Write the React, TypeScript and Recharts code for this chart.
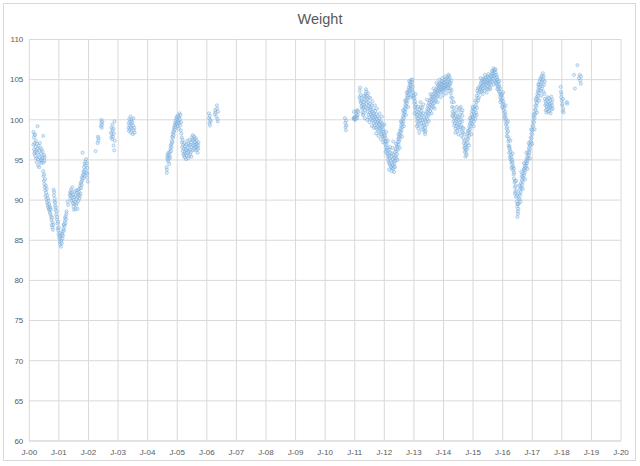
import React from "react";
import { ScatterChart, Scatter, XAxis, YAxis, CartesianGrid } from "recharts";

type Pt = [number, number];

// x tick values (Jan of each year) and y tick values
const xTicks: number[] = [2000, 2001, 2002, 2003, 2004, 2005, 2006, 2007, 2008, 2009, 2010, 2011, 2012, 2013, 2014, 2015, 2016, 2017, 2018, 2019, 2020];
const yTicks: number[] = [60, 65, 70, 75, 80, 85, 90, 95, 100, 105, 110];

const w2000a: Pt[] = [
  [2000.14, 98.5], [2000.14, 96.9], [2000.15, 97.8], [2000.16, 96.3], [2000.17, 98.2], [2000.17, 95.8], [2000.18, 97.1], [2000.19, 96.0],
  [2000.2, 98.1], [2000.2, 95.5], [2000.21, 96.6], [2000.22, 97.4], [2000.23, 95.2], [2000.24, 96.1], [2000.25, 94.7], [2000.26, 97.0],
  [2000.27, 95.9], [2000.28, 99.2], [2000.28, 96.4], [2000.29, 95.1], [2000.3, 94.3], [2000.31, 96.8], [2000.32, 95.6], [2000.33, 94.1],
  [2000.34, 96.2], [2000.35, 95.3], [2000.36, 97.1], [2000.37, 94.8], [2000.38, 96.5], [2000.39, 95.0], [2000.4, 95.8], [2000.41, 94.6],
  [2000.42, 96.3], [2000.43, 95.2], [2000.44, 94.9], [2000.45, 96.0], [2000.46, 95.4], [2000.47, 98.0], [2000.48, 94.7], [2000.5, 95.6],
  [2000.51, 94.9], [2000.52, 95.3],
];

const w2000b: Pt[] = [
  [2000.47, 93.6], [2000.48, 93.0], [2000.49, 92.4], [2000.5, 93.2], [2000.51, 92.0], [2000.52, 91.6], [2000.53, 92.6], [2000.54, 91.2],
  [2000.55, 90.5], [2000.56, 91.8], [2000.57, 90.9], [2000.58, 90.1], [2000.59, 91.4], [2000.6, 89.7], [2000.61, 90.6], [2000.62, 89.4],
  [2000.63, 90.2], [2000.64, 89.1], [2000.65, 89.9], [2000.66, 88.9], [2000.67, 89.5], [2000.68, 88.7], [2000.69, 89.2], [2000.7, 88.4],
  [2000.71, 89.0], [2000.72, 88.2], [2000.73, 88.8], [2000.74, 87.9], [2000.75, 87.5], [2000.76, 86.9], [2000.77, 87.8], [2000.78, 86.6],
  [2000.79, 87.2], [2000.8, 86.3], [2000.81, 86.9],
];

const w2000c: Pt[] = [
  [2000.82, 91.3], [2000.83, 90.6], [2000.84, 91.0], [2000.85, 89.8], [2000.86, 90.2], [2000.87, 89.3], [2000.88, 89.7], [2000.89, 88.8],
  [2000.9, 89.1], [2000.91, 88.2], [2000.92, 88.6], [2000.93, 87.6], [2000.94, 87.9], [2000.95, 87.1], [2000.96, 86.5], [2000.97, 87.3],
  [2000.98, 86.2], [2000.99, 85.7], [2001.0, 86.6], [2001.01, 85.3], [2001.02, 85.9], [2001.03, 84.8], [2001.04, 85.5], [2001.05, 84.5],
  [2001.06, 85.1], [2001.07, 84.2], [2001.08, 84.9], [2001.09, 85.6], [2001.1, 84.6], [2001.11, 85.8],
  [2001.12, 85.2], [2001.13, 86.1], [2001.14, 85.6], [2001.15, 86.4], [2001.16, 86.9], [2001.17, 86.2], [2001.18, 87.0], [2001.19, 86.7],
  [2001.2, 87.4], [2001.21, 87.8], [2001.22, 87.1], [2001.23, 88.0], [2001.24, 87.6], [2001.25, 88.3], [2001.26, 88.6],
];

const w2001: Pt[] = [
  [2001.3, 89.8], [2001.31, 89.4], [2001.37, 90.6], [2001.38, 91.0], [2001.39, 90.2], [2001.4, 90.8], [2001.41, 91.3], [2001.42, 90.5],
  [2001.43, 89.9], [2001.44, 90.9], [2001.45, 91.6], [2001.46, 90.3], [2001.47, 89.6], [2001.48, 90.7], [2001.49, 89.2], [2001.5, 90.0],
  [2001.51, 88.8], [2001.52, 89.5], [2001.53, 90.4], [2001.54, 91.1], [2001.55, 89.8], [2001.56, 88.9], [2001.57, 90.6], [2001.58, 89.4],
  [2001.59, 91.2], [2001.6, 90.1], [2001.61, 89.6], [2001.62, 90.9], [2001.63, 88.9], [2001.64, 90.4], [2001.65, 91.3], [2001.66, 89.9],
  [2001.67, 90.7], [2001.68, 91.0], [2001.69, 90.2], [2001.7, 91.4], [2001.71, 90.5], [2001.72, 91.8], [2001.73, 90.8], [2001.74, 92.1],
  [2001.75, 91.5], [2001.76, 92.3], [2001.77, 91.9], [2001.78, 92.8], [2001.79, 92.5], [2001.8, 95.9], [2001.81, 93.1], [2001.82, 92.7],
  [2001.83, 93.6], [2001.84, 93.2], [2001.85, 94.1], [2001.86, 93.5], [2001.87, 94.5], [2001.88, 93.0], [2001.89, 94.8], [2001.9, 93.8],
  [2001.91, 94.3], [2001.92, 95.1], [2001.93, 93.4], [2001.94, 94.6], [2001.95, 92.8], [2001.96, 94.0], [2001.97, 93.3], [2001.98, 92.3],
];

const w2002: Pt[] = [
  [2002.24, 96.1], [2002.31, 97.1], [2002.32, 97.9], [2002.33, 97.4], [2002.34, 97.7], [2002.42, 99.2], [2002.43, 100.0], [2002.44, 99.6],
  [2002.45, 99.0], [2002.46, 99.4], [2002.47, 99.8],
  [2002.76, 98.4], [2002.77, 97.8], [2002.78, 99.0], [2002.79, 98.2], [2002.8, 97.6], [2002.81, 99.4], [2002.82, 98.7], [2002.83, 97.9],
  [2002.84, 98.9], [2002.85, 96.8], [2002.86, 98.3], [2002.87, 96.2], [2002.88, 99.8], [2002.89, 97.4],
];

const w2003: Pt[] = [
  [2003.35, 99.0], [2003.36, 99.6], [2003.37, 98.6], [2003.38, 100.1], [2003.39, 99.3], [2003.4, 98.8], [2003.41, 99.8], [2003.42, 100.4],
  [2003.43, 99.1], [2003.44, 98.4], [2003.45, 99.5], [2003.46, 100.0], [2003.47, 98.9], [2003.48, 99.7], [2003.5, 98.2], [2003.51, 99.3],
  [2003.52, 100.2], [2003.53, 98.7], [2003.55, 99.0], [2003.56, 98.4],
];

const w2004: Pt[] = [
  [2004.64, 94.1], [2004.65, 93.4], [2004.65, 93.8], [2004.66, 95.3], [2004.67, 95.7], [2004.68, 95.0], [2004.69, 95.5], [2004.7, 94.8],
  [2004.71, 95.9], [2004.72, 95.2], [2004.73, 94.5], [2004.74, 95.6], [2004.75, 96.0], [2004.76, 95.3], [2004.77, 96.4], [2004.78, 96.8],
  [2004.79, 96.1], [2004.8, 97.0], [2004.81, 96.6], [2004.82, 97.4], [2004.83, 97.9], [2004.84, 97.2], [2004.85, 98.3], [2004.86, 97.8],
  [2004.87, 98.6], [2004.88, 98.1], [2004.89, 99.0], [2004.9, 98.5], [2004.91, 99.3], [2004.92, 98.8], [2004.93, 99.6], [2004.94, 99.1],
  [2004.95, 99.9], [2004.96, 99.4], [2004.97, 100.2], [2004.98, 99.7], [2004.99, 100.4], [2005.0, 99.5], [2005.01, 100.0], [2005.02, 99.2],
  [2005.03, 100.5], [2005.04, 99.8], [2005.05, 98.9], [2005.06, 100.3], [2005.07, 99.6], [2005.08, 100.8], [2005.09, 100.1], [2005.1, 99.3],
  [2005.11, 100.6], [2005.12, 98.7], [2005.13, 99.7], [2005.14, 98.3],
];

const w2005: Pt[] = [
  [2005.15, 97.8], [2005.16, 97.2], [2005.17, 96.6], [2005.18, 97.5], [2005.19, 96.1], [2005.2, 96.9], [2005.21, 95.7], [2005.22, 96.4],
  [2005.23, 95.5], [2005.24, 97.1], [2005.25, 96.0], [2005.26, 95.3], [2005.27, 96.7], [2005.28, 95.8], [2005.29, 96.3], [2005.3, 95.1],
  [2005.31, 96.9], [2005.32, 95.6], [2005.33, 96.2], [2005.34, 97.4], [2005.35, 95.9], [2005.36, 96.5], [2005.37, 95.2], [2005.38, 97.0],
  [2005.39, 96.1], [2005.4, 95.5], [2005.41, 96.8], [2005.42, 97.5], [2005.43, 96.3], [2005.44, 95.7], [2005.45, 96.9], [2005.46, 96.0],
  [2005.47, 97.2], [2005.48, 95.4], [2005.49, 96.6], [2005.5, 97.8], [2005.51, 96.2], [2005.52, 97.5], [2005.53, 98.1], [2005.54, 96.8],
  [2005.55, 97.3], [2005.56, 96.4], [2005.57, 97.9], [2005.58, 96.9], [2005.59, 97.6], [2005.6, 96.2], [2005.61, 97.2], [2005.62, 96.6],
  [2005.63, 97.7], [2005.64, 96.9], [2005.65, 97.4], [2005.66, 96.3], [2005.67, 97.0], [2005.68, 96.6], [2005.69, 95.9], [2005.7, 96.8],
  [2005.71, 96.4], [2005.72, 97.2],
];

const w2006: Pt[] = [
  [2006.07, 100.8], [2006.08, 100.2], [2006.09, 99.6], [2006.1, 100.5], [2006.11, 99.3], [2006.12, 100.0], [2006.13, 99.8],
  [2006.27, 100.7], [2006.28, 101.2], [2006.3, 100.9], [2006.32, 100.4], [2006.34, 101.8], [2006.35, 101.4], [2006.36, 100.1],
  [2006.37, 99.8], [2006.38, 101.0],
];

const w2010: Pt[] = [
  [2010.67, 100.2], [2010.68, 99.6], [2010.69, 99.1], [2010.7, 98.7], [2010.71, 99.9], [2010.72, 99.3],
  [2010.96, 100.2], [2010.97, 101.0], [2010.98, 100.1], [2010.99, 100.3], [2011.0, 100.2], [2011.01, 100.0], [2011.02, 100.4],
  [2011.03, 100.1], [2011.04, 100.3], [2011.05, 100.8], [2011.06, 101.1], [2011.07, 100.5], [2011.08, 100.2], [2011.09, 101.2],
  [2011.1, 100.6], [2011.12, 101.0],
  [2011.16, 102.8], [2011.17, 103.6], [2011.18, 104.0], [2011.19, 102.4], [2011.2, 103.1], [2011.21, 102.1], [2011.22, 102.7],
  [2011.23, 101.7], [2011.24, 102.3], [2011.25, 101.4], [2011.26, 100.9], [2011.27, 101.9], [2011.28, 100.6],
];

const w2011: Pt[] = [
  [2011.29, 101.5], [2011.3, 102.2], [2011.31, 100.8], [2011.32, 101.8], [2011.33, 102.6], [2011.34, 101.2], [2011.35, 102.9], [2011.36, 101.6],
  [2011.37, 103.2], [2011.38, 102.4], [2011.39, 103.5], [2011.4, 102.0], [2011.41, 103.0], [2011.42, 101.4], [2011.43, 102.6], [2011.44, 101.0],
  [2011.45, 102.2], [2011.46, 100.6], [2011.47, 101.7], [2011.48, 102.8], [2011.49, 100.3], [2011.5, 101.4], [2011.51, 102.0], [2011.52, 100.9],
  [2011.53, 101.6], [2011.54, 100.1], [2011.55, 101.2], [2011.56, 100.7], [2011.57, 101.8], [2011.58, 100.4], [2011.59, 101.0], [2011.6, 99.9],
  [2011.61, 100.6], [2011.62, 101.3], [2011.63, 100.2], [2011.64, 99.6], [2011.65, 100.8], [2011.66, 100.0], [2011.67, 99.3], [2011.68, 100.5],
  [2011.69, 101.1], [2011.7, 99.8], [2011.71, 100.3], [2011.72, 99.0], [2011.73, 100.7], [2011.74, 99.5], [2011.75, 100.1], [2011.76, 98.8],
  [2011.77, 99.7], [2011.78, 100.4], [2011.79, 99.2], [2011.8, 99.9], [2011.81, 98.6], [2011.82, 99.4], [2011.83, 100.2], [2011.84, 99.0],
  [2011.85, 99.7], [2011.86, 98.4], [2011.87, 99.3], [2011.88, 98.9], [2011.89, 99.8], [2011.9, 98.2], [2011.91, 99.1], [2011.92, 98.6],
  [2011.93, 99.5], [2011.94, 98.0], [2011.95, 98.8], [2011.96, 99.3], [2011.97, 97.9], [2011.98, 98.5], [2011.99, 97.6], [2012.0, 98.2],
  [2012.01, 97.3], [2012.02, 98.0], [2012.03, 97.0], [2012.04, 97.7], [2012.05, 96.6], [2012.06, 97.3], [2012.07, 96.2],
];

const w2012a: Pt[] = [
  [2012.08, 96.9], [2012.09, 95.8], [2012.1, 96.5], [2012.11, 95.4], [2012.12, 96.2], [2012.13, 95.0], [2012.14, 95.7], [2012.15, 94.7],
  [2012.16, 95.5], [2012.17, 96.3], [2012.18, 94.5], [2012.19, 95.2], [2012.2, 94.3], [2012.21, 95.9], [2012.22, 94.9], [2012.23, 94.1],
  [2012.24, 95.4], [2012.25, 94.6], [2012.26, 95.8], [2012.27, 94.0], [2012.28, 95.1], [2012.29, 94.4], [2012.3, 93.9], [2012.3, 97.3],
  [2012.31, 95.6], [2012.32, 94.8], [2012.33, 94.2], [2012.34, 95.3], [2012.35, 94.6], [2012.36, 96.0], [2012.37, 94.9], [2012.38, 95.5],
  [2012.39, 96.4], [2012.4, 95.2], [2012.41, 96.1], [2012.42, 96.8], [2012.43, 95.7], [2012.44, 96.6], [2012.45, 97.2], [2012.46, 96.3],
  [2012.47, 97.6],
];

const w2012b: Pt[] = [
  [2012.48, 96.9], [2012.49, 97.8], [2012.5, 97.3], [2012.51, 98.2], [2012.52, 97.6], [2012.53, 98.6], [2012.54, 98.0], [2012.55, 98.9],
  [2012.56, 98.4], [2012.57, 99.3], [2012.58, 98.7], [2012.59, 99.7], [2012.6, 99.1], [2012.61, 100.0], [2012.62, 99.5], [2012.63, 100.4],
  [2012.64, 99.8], [2012.65, 100.8], [2012.66, 100.2], [2012.67, 101.1], [2012.68, 100.6], [2012.69, 101.5], [2012.7, 101.0], [2012.71, 101.9],
  [2012.72, 101.3], [2012.73, 102.3], [2012.74, 101.7], [2012.75, 102.6], [2012.76, 102.1], [2012.77, 103.0], [2012.78, 102.4], [2012.79, 103.4],
  [2012.8, 102.8], [2012.81, 103.7], [2012.82, 103.1], [2012.83, 104.0], [2012.84, 103.4], [2012.85, 104.3], [2012.86, 103.6], [2012.87, 104.6],
  [2012.88, 103.9], [2012.89, 104.8], [2012.9, 104.2], [2012.91, 105.0], [2012.92, 104.4], [2012.93, 103.8], [2012.94, 104.7], [2012.95, 103.5],
  [2012.96, 104.1], [2012.97, 103.0],
];

const w2013a: Pt[] = [
  [2012.98, 103.4], [2012.99, 102.6], [2013.0, 103.0], [2013.01, 102.1], [2013.02, 102.7], [2013.03, 101.6], [2013.04, 102.3], [2013.05, 101.2],
  [2013.06, 101.9], [2013.07, 100.7], [2013.08, 101.5], [2013.09, 100.3], [2013.1, 101.0], [2013.11, 99.8], [2013.12, 100.6], [2013.13, 99.4],
  [2013.14, 100.2], [2013.15, 98.9], [2013.16, 99.8], [2013.17, 100.9], [2013.18, 99.3], [2013.19, 100.4], [2013.2, 101.3], [2013.21, 99.9],
  [2013.22, 100.8], [2013.23, 101.6], [2013.24, 100.3], [2013.25, 101.1], [2013.26, 99.6], [2013.27, 100.6], [2013.28, 101.5], [2013.29, 100.0],
  [2013.3, 99.2], [2013.31, 100.8], [2013.32, 99.6], [2013.33, 98.8], [2013.34, 100.2], [2013.35, 99.3], [2013.36, 98.5], [2013.37, 100.0],
  [2013.38, 99.0], [2013.39, 100.6], [2013.4, 98.6], [2013.41, 99.8], [2013.42, 101.0], [2013.43, 99.4], [2013.44, 100.4], [2013.45, 101.4],
  [2013.46, 100.0], [2013.47, 100.9], [2013.48, 101.8], [2013.49, 100.5], [2013.5, 101.3], [2013.51, 102.1], [2013.52, 100.8], [2013.53, 101.6],
  [2013.54, 102.4], [2013.55, 101.1],
];

const w2013b: Pt[] = [
  [2013.56, 101.9], [2013.57, 102.6], [2013.58, 101.4], [2013.59, 102.2], [2013.6, 102.9], [2013.61, 101.7], [2013.62, 102.5], [2013.63, 103.1],
  [2013.64, 102.0], [2013.65, 102.8], [2013.66, 101.6], [2013.67, 102.4], [2013.68, 103.3], [2013.69, 102.1], [2013.7, 102.9], [2013.71, 103.6],
  [2013.72, 102.6], [2013.73, 103.4], [2013.74, 102.3], [2013.75, 103.1], [2013.76, 103.8], [2013.77, 102.8], [2013.78, 103.5], [2013.79, 104.1],
  [2013.8, 103.0], [2013.81, 103.7], [2013.82, 104.3], [2013.83, 103.2], [2013.84, 103.9], [2013.85, 104.5], [2013.86, 103.5], [2013.87, 104.2],
  [2013.88, 103.7], [2013.89, 104.6], [2013.9, 104.0], [2013.91, 103.4], [2013.92, 104.4], [2013.93, 103.8], [2013.94, 104.8], [2013.95, 104.1],
  [2013.96, 103.6], [2013.97, 104.5], [2013.98, 103.9], [2013.99, 104.7], [2014.0, 104.2], [2014.01, 103.7], [2014.02, 104.6], [2014.03, 104.0],
  [2014.04, 105.0], [2014.05, 104.3], [2014.06, 103.8], [2014.07, 104.7], [2014.08, 104.1], [2014.09, 105.1], [2014.1, 104.4], [2014.11, 103.9],
  [2014.12, 104.8], [2014.13, 104.2], [2014.14, 105.3], [2014.15, 104.5], [2014.16, 104.0], [2014.17, 105.0], [2014.18, 104.3], [2014.19, 105.5],
  [2014.2, 104.7], [2014.21, 105.2], [2014.22, 104.4],
];

const w2014a: Pt[] = [
  [2014.23, 103.9], [2014.24, 104.6], [2014.25, 103.3], [2014.26, 102.8], [2014.27, 103.7], [2014.28, 102.2], [2014.29, 101.6], [2014.3, 102.7],
  [2014.31, 101.0], [2014.32, 100.4], [2014.33, 101.5], [2014.34, 99.8], [2014.35, 100.7], [2014.36, 99.3], [2014.37, 100.2], [2014.38, 101.1],
  [2014.39, 99.6], [2014.4, 100.5], [2014.41, 98.9], [2014.42, 99.9], [2014.43, 100.8], [2014.44, 99.2], [2014.45, 100.1], [2014.46, 98.6],
  [2014.47, 99.5], [2014.48, 100.4], [2014.49, 99.0], [2014.5, 100.0], [2014.51, 101.2], [2014.52, 99.4], [2014.53, 100.3], [2014.54, 98.8],
  [2014.55, 99.7], [2014.56, 100.6], [2014.57, 99.1], [2014.58, 101.6], [2014.59, 100.0], [2014.6, 99.3], [2014.61, 100.9], [2014.62, 98.5],
  [2014.63, 99.8], [2014.64, 100.5], [2014.65, 99.0],
];

const w2014b: Pt[] = [
  [2014.66, 98.4], [2014.67, 97.7], [2014.68, 98.9], [2014.69, 97.1], [2014.7, 96.5], [2014.71, 97.4], [2014.72, 96.0], [2014.73, 96.8],
  [2014.74, 95.4], [2014.75, 96.2], [2014.76, 97.0], [2014.77, 95.8], [2014.78, 96.6], [2014.79, 97.5], [2014.8, 96.3], [2014.81, 97.9],
  [2014.82, 97.1], [2014.83, 98.3], [2014.84, 97.6], [2014.85, 98.7], [2014.86, 98.0], [2014.87, 99.1], [2014.88, 98.4], [2014.89, 99.5],
  [2014.9, 98.8], [2014.91, 99.9], [2014.92, 99.2], [2014.93, 100.3], [2014.94, 99.6], [2014.95, 100.7], [2014.96, 100.0], [2014.97, 101.1],
  [2014.98, 99.5], [2014.99, 100.4], [2015.0, 101.4], [2015.01, 100.2], [2015.02, 101.0], [2015.03, 99.8], [2015.04, 100.7], [2015.05, 101.6],
  [2015.06, 100.5], [2015.07, 101.3], [2015.08, 100.1], [2015.09, 101.8], [2015.1, 100.9], [2015.11, 102.2], [2015.12, 103.0], [2015.13, 101.5],
  [2015.14, 103.6], [2015.15, 102.7], [2015.16, 103.9], [2015.17, 102.4], [2015.18, 103.3], [2015.2, 104.0], [2015.22, 103.5],
];

const w2015: Pt[] = [
  [2015.24, 104.3], [2015.25, 103.8], [2015.26, 104.6], [2015.27, 104.0], [2015.28, 103.5], [2015.29, 104.8], [2015.3, 104.2], [2015.31, 103.7],
  [2015.32, 105.0], [2015.33, 104.4], [2015.34, 103.9], [2015.35, 104.7], [2015.36, 105.1], [2015.37, 104.3], [2015.38, 103.6], [2015.39, 104.9],
  [2015.4, 104.5], [2015.41, 105.2], [2015.42, 104.0], [2015.43, 104.7], [2015.44, 105.3], [2015.45, 104.4], [2015.46, 103.9], [2015.47, 104.8],
  [2015.48, 105.0], [2015.49, 104.2], [2015.5, 105.4], [2015.51, 104.6], [2015.52, 103.8], [2015.53, 104.9], [2015.54, 105.2], [2015.55, 104.4],
  [2015.56, 104.0], [2015.57, 104.8], [2015.58, 105.5], [2015.59, 104.6], [2015.6, 105.0], [2015.61, 104.3], [2015.62, 105.3], [2015.63, 105.7],
  [2015.64, 104.8], [2015.65, 105.4], [2015.66, 106.0], [2015.67, 105.1], [2015.68, 105.8], [2015.69, 106.4], [2015.7, 105.5], [2015.71, 106.1],
  [2015.72, 104.9], [2015.73, 106.2], [2015.74, 105.6], [2015.75, 104.7], [2015.76, 105.9], [2015.77, 105.2], [2015.78, 104.5], [2015.79, 105.6],
  [2015.8, 104.9], [2015.81, 105.3], [2015.82, 104.3], [2015.83, 105.0], [2015.84, 104.1], [2015.85, 104.7], [2015.86, 103.8], [2015.87, 104.4],
  [2015.88, 103.5], [2015.89, 104.1], [2015.9, 103.2], [2015.91, 103.9], [2015.92, 102.8], [2015.93, 103.5], [2015.94, 102.5], [2015.95, 103.1],
];

const w2016a: Pt[] = [
  [2015.96, 103.0], [2015.97, 102.4], [2015.98, 103.2], [2015.99, 102.0], [2016.0, 102.7], [2016.01, 101.6], [2016.02, 102.3], [2016.03, 101.2],
  [2016.04, 101.9], [2016.05, 100.8], [2016.06, 101.5], [2016.07, 100.4], [2016.08, 101.0], [2016.09, 99.9], [2016.1, 100.6], [2016.11, 99.4],
  [2016.12, 100.1], [2016.13, 98.9], [2016.14, 99.6], [2016.15, 98.4], [2016.16, 99.1], [2016.17, 97.9], [2016.18, 98.6], [2016.19, 97.3],
  [2016.2, 96.8], [2016.21, 97.6], [2016.22, 95.9], [2016.23, 96.7], [2016.24, 95.4], [2016.25, 96.3], [2016.26, 95.1], [2016.27, 96.0],
  [2016.28, 95.6], [2016.29, 94.8], [2016.3, 95.3], [2016.31, 94.5], [2016.32, 95.0], [2016.33, 94.1], [2016.34, 94.7], [2016.35, 93.7],
  [2016.36, 94.2], [2016.37, 93.2], [2016.38, 92.7], [2016.39, 93.4], [2016.4, 92.2], [2016.41, 91.6], [2016.42, 92.4], [2016.43, 91.0],
  [2016.44, 91.8], [2016.45, 90.4], [2016.46, 91.2], [2016.47, 89.8], [2016.48, 90.6], [2016.49, 89.2], [2016.5, 87.9], [2016.51, 88.6],
  [2016.52, 89.5], [2016.53, 88.9],
];

const w2016b: Pt[] = [
  [2016.54, 90.2], [2016.55, 89.6], [2016.56, 90.8], [2016.57, 90.1], [2016.58, 91.3], [2016.59, 90.6], [2016.6, 91.7], [2016.61, 91.0],
  [2016.62, 92.1], [2016.63, 93.5], [2016.64, 91.5], [2016.65, 92.5], [2016.66, 91.9], [2016.67, 92.9], [2016.68, 92.3], [2016.69, 93.3],
  [2016.7, 92.7], [2016.71, 93.8], [2016.72, 93.1], [2016.73, 93.9], [2016.74, 93.4], [2016.75, 94.2], [2016.76, 93.7], [2016.77, 94.5],
  [2016.78, 94.0], [2016.79, 94.8], [2016.8, 94.3], [2016.81, 95.1], [2016.82, 94.6], [2016.83, 95.4], [2016.84, 94.9], [2016.85, 95.8],
  [2016.86, 95.2], [2016.87, 96.1], [2016.88, 95.6], [2016.89, 96.5], [2016.9, 95.9], [2016.91, 96.9], [2016.92, 96.3], [2016.93, 97.3],
  [2016.94, 96.8], [2016.95, 97.8], [2016.96, 97.2], [2016.97, 98.3], [2016.98, 97.7], [2016.99, 98.8],
];

const w2017a: Pt[] = [
  [2017.0, 98.2], [2017.01, 99.3], [2017.02, 98.7], [2017.03, 99.8], [2017.04, 99.2], [2017.05, 100.3], [2017.06, 99.7], [2017.07, 100.8],
  [2017.08, 100.2], [2017.09, 101.3], [2017.1, 100.7], [2017.11, 101.8], [2017.12, 101.2], [2017.13, 102.3], [2017.14, 101.7], [2017.15, 102.8],
  [2017.16, 102.1], [2017.17, 103.2], [2017.18, 102.6], [2017.19, 103.6], [2017.2, 103.0], [2017.21, 104.0], [2017.22, 103.4], [2017.23, 104.4],
  [2017.24, 103.7], [2017.25, 104.8], [2017.26, 104.1], [2017.27, 105.1], [2017.28, 104.4], [2017.29, 103.6], [2017.3, 105.3], [2017.31, 104.7],
  [2017.32, 103.9], [2017.33, 105.5], [2017.34, 104.9], [2017.35, 104.2], [2017.36, 105.8], [2017.37, 105.0], [2017.38, 103.5], [2017.39, 105.4],
  [2017.4, 104.4], [2017.41, 103.2], [2017.42, 104.8],
];

const w2017b: Pt[] = [
  [2017.43, 102.6], [2017.44, 101.8], [2017.45, 102.3], [2017.46, 101.2], [2017.47, 102.0], [2017.48, 100.9], [2017.49, 101.6], [2017.5, 102.5],
  [2017.51, 101.3], [2017.52, 102.8], [2017.53, 101.9], [2017.54, 101.0], [2017.55, 102.2], [2017.56, 101.5], [2017.57, 102.7], [2017.58, 101.1],
  [2017.59, 102.0], [2017.6, 101.7], [2017.61, 102.4], [2017.62, 100.8], [2017.63, 101.6], [2017.64, 102.9], [2017.65, 101.3], [2017.66, 102.1],
  [2017.67, 101.8], [2017.68, 102.5], [2017.69, 101.4],
];

const w2018: Pt[] = [
  [2017.96, 104.1], [2017.97, 103.5], [2017.98, 102.8], [2017.99, 103.2], [2018.0, 102.4], [2018.01, 101.8], [2018.02, 102.0], [2018.03, 101.1],
  [2018.04, 102.6], [2018.05, 101.4], [2018.06, 100.9], [2018.17, 102.2], [2018.18, 102.0],
  [2018.41, 105.6], [2018.44, 103.9], [2018.53, 106.8], [2018.58, 105.2], [2018.6, 105.6], [2018.62, 104.9], [2018.64, 104.5], [2018.65, 105.4],
];

// additional readings at the edges of the dense bands
const wEdge2011: Pt[] = [
  [2011.31, 103.0], [2011.34, 100.2], [2011.38, 103.8], [2011.42, 100.0], [2011.45, 103.3], [2011.5, 99.7], [2011.53, 102.7], [2011.58, 99.2],
  [2011.6, 102.3], [2011.65, 99.0], [2011.68, 101.8], [2011.72, 98.3], [2011.75, 101.4], [2011.8, 98.0], [2011.84, 100.8], [2011.88, 97.6],
  [2011.92, 100.4], [2011.96, 97.2], [2012.0, 99.4], [2012.04, 96.0], [2012.06, 98.5],
  [2012.12, 97.4], [2012.16, 93.8], [2012.2, 96.6], [2012.25, 93.6], [2012.28, 96.5], [2012.33, 93.5], [2012.36, 94.1], [2012.4, 97.0],
  [2012.44, 95.0], [2012.48, 98.2],
];

const wEdge2012: Pt[] = [
  [2012.52, 96.5], [2012.56, 99.8], [2012.6, 97.9], [2012.63, 101.2], [2012.66, 99.2], [2012.7, 102.4], [2012.73, 100.6], [2012.76, 103.4],
  [2012.8, 101.6], [2012.84, 104.8], [2012.88, 102.8], [2012.92, 103.0], [2012.95, 105.0],
  [2013.02, 100.8], [2013.06, 103.2], [2013.1, 99.2], [2013.14, 101.6], [2013.18, 98.4], [2013.22, 102.2], [2013.27, 98.8], [2013.32, 101.9],
  [2013.38, 98.2], [2013.44, 102.5], [2013.5, 99.8], [2013.56, 103.2], [2013.6, 100.8], [2013.66, 103.9], [2013.7, 101.4], [2013.76, 104.6],
  [2013.8, 102.2], [2013.86, 105.0], [2013.9, 102.8], [2013.96, 105.2], [2014.0, 103.1], [2014.06, 105.4], [2014.1, 103.3], [2014.16, 105.6],
  [2014.2, 103.6],
];

const wEdge2014: Pt[] = [
  [2014.26, 104.9], [2014.3, 100.6], [2014.35, 102.2], [2014.4, 98.4], [2014.45, 101.6], [2014.5, 98.2], [2014.55, 101.4], [2014.6, 98.0],
  [2014.64, 101.2], [2014.7, 98.2], [2014.74, 96.5], [2014.78, 95.6], [2014.82, 98.6], [2014.86, 96.8], [2014.9, 100.2], [2014.94, 98.2],
  [2014.98, 101.6], [2015.02, 99.2], [2015.08, 102.4], [2015.12, 100.6],
  [2015.2, 102.8], [2015.26, 105.2], [2015.32, 103.2], [2015.4, 105.6], [2015.46, 103.4], [2015.52, 105.7], [2015.58, 103.8], [2015.64, 106.1],
  [2015.7, 104.4], [2015.76, 106.3], [2015.82, 103.8], [2015.88, 104.8], [2015.92, 102.2],
];

const wEdge2016: Pt[] = [
  [2015.98, 101.6], [2016.02, 103.4], [2016.06, 100.2], [2016.1, 101.8], [2016.14, 98.0], [2016.18, 99.8], [2016.22, 96.5], [2016.26, 97.4],
  [2016.3, 94.0], [2016.34, 95.8], [2016.38, 93.9], [2016.42, 90.8], [2016.46, 92.4], [2016.5, 89.5], [2016.52, 88.3], [2016.56, 91.8],
  [2016.6, 89.8], [2016.64, 93.0], [2016.68, 91.4], [2016.72, 94.6], [2016.76, 92.6], [2016.8, 95.9], [2016.84, 93.9], [2016.88, 97.1],
  [2016.92, 95.2], [2016.96, 98.8], [2017.0, 97.0], [2017.04, 100.6], [2017.08, 98.8], [2017.12, 102.6], [2017.16, 100.9], [2017.2, 104.4],
  [2017.24, 102.4], [2017.3, 103.0],
];

const allSegments: Pt[][] = [
  w2000a, w2000b, w2000c, w2001, w2002, w2003, w2004, w2005, w2006,
  w2010, w2011, w2012a, w2012b, w2013a, w2013b, w2014a, w2014b, w2015,
  w2016a, w2016b, w2017a, w2017b, w2018,
  wEdge2011, wEdge2012, wEdge2014, wEdge2016,
];

const data = allSegments.flat().map(([t, w]) => ({ t, w }));

const fmtYear = (v: number) => "J-" + String(Math.round(v) % 100).padStart(2, "0");

const Dot = (props: any) => {
  const { cx, cy } = props;
  if (cx == null || cy == null) return null;
  return (
    <circle cx={cx} cy={cy} r={1.6} fill="#BDD7EE" fillOpacity={0.45} stroke="#5B9BD5" strokeOpacity={0.55} strokeWidth={0.7} />
  );
};

const FONT = "'Liberation Sans', Arial, sans-serif";

export default function App() {
  return (
    <div style={{ position: "absolute", left: 0, top: 0, width: 640, height: 466, background: "#fff", fontFamily: FONT }}>
      <div
        style={{
          position: "absolute", left: 3, top: 3, width: 633, height: 458,
          border: "1px solid #D9D9D9", boxSizing: "border-box",
        }}
      />
      <div
        style={{
          position: "absolute", left: 0, top: 10, width: 640, textAlign: "center",
          fontSize: 14.5, color: "#595959", lineHeight: "18px",
        }}
      >
        Weight
      </div>
      <div style={{ position: "absolute", left: 0, top: 0 }}>
        <ScatterChart width={640} height={466} margin={{ top: 39.5, right: 19, bottom: 0, left: 0 }}>
          <CartesianGrid stroke="#D9D9D9" strokeWidth={1} />
          <XAxis
            type="number"
            dataKey="t"
            domain={[2000, 2020]}
            ticks={xTicks}
            interval={0}
            tickFormatter={fmtYear}
            height={25}
            axisLine={{ stroke: "#D9D9D9" }}
            tickLine={false}
            tick={{ fontSize: 8, fill: "#595959", fontFamily: FONT }}
            allowDataOverflow
          />
          <YAxis
            type="number"
            dataKey="w"
            domain={[60, 110]}
            ticks={yTicks}
            interval={0}
            width={29.3}
            axisLine={false}
            tickLine={false}
            tickMargin={0}
            tick={{ fontSize: 8, fill: "#595959", fontFamily: FONT }}
            allowDataOverflow
          />
          <Scatter data={data} shape={<Dot />} isAnimationActive={false} />
        </ScatterChart>
      </div>
    </div>
  );
}
